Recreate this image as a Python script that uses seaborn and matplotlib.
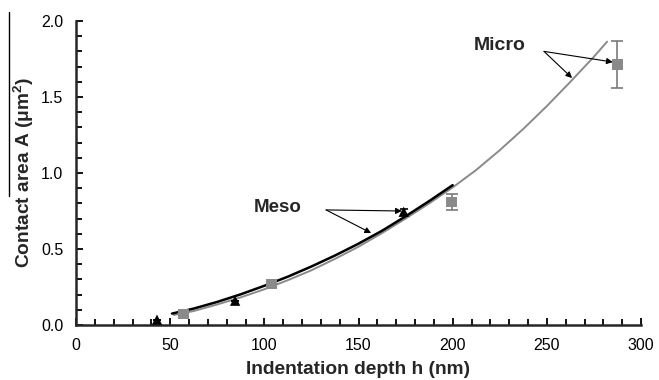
import matplotlib
matplotlib.use("Agg")
import matplotlib.pyplot as plt
from matplotlib.lines import Line2D
from matplotlib.ticker import MultipleLocator, FormatStrFormatter
import seaborn as sns
import pandas as pd

# Fitted curves
meso_h = [51, 62.5, 75, 87.5, 100, 112.5, 125, 137.5, 150, 162.5, 175, 187.5, 200]
meso_A = [0.075, 0.108, 0.152, 0.202, 0.258, 0.318, 0.385, 0.457, 0.535, 0.62,
          0.715, 0.815, 0.92]
micro_h = [52, 62.5, 75, 87.5, 100, 112.5, 125, 137.5, 150, 162.5, 175, 187.5,
           200, 212.5, 225, 237.5, 250, 262.5, 275, 282]
micro_A = [0.066, 0.092, 0.135, 0.182, 0.235, 0.295, 0.36, 0.435, 0.515, 0.605,
           0.70, 0.80, 0.905, 1.02, 1.15, 1.29, 1.44, 1.60, 1.765, 1.864]

# Measured points
meso_pts_h = [43, 84.5, 174]
meso_pts_A = [0.035, 0.16, 0.745]
meso_err = [0, 0, 0.02]
micro_pts_h = [57, 104, 199.5, 287.5]
micro_pts_A = [0.072, 0.27, 0.81, 1.715]
micro_err = [0, 0, 0.055, 0.155]

sns.set_style("ticks")
plt.rcParams["font.family"] = ["Liberation Sans", "DejaVu Sans"]
plt.rcParams["mathtext.default"] = "regular"

fig = plt.figure(figsize=(6.59, 3.8), dpi=100)
ax = fig.add_axes([76 / 659, 1 - 325 / 380, 565 / 659, 304 / 380])

meso_curve = pd.DataFrame({"h": meso_h, "A": meso_A})
micro_curve = pd.DataFrame({"h": micro_h, "A": micro_A})
sns.lineplot(data=micro_curve, x="h", y="A", color="#8a8a8a", lw=1.4, ax=ax)
sns.lineplot(data=meso_curve, x="h", y="A", color="black", lw=1.8, ax=ax)

ax.errorbar(micro_pts_h, micro_pts_A, yerr=micro_err, fmt="none", ecolor="#7a7a7a",
            elinewidth=1.2, capsize=4, capthick=1.2)
ax.errorbar(meso_pts_h, meso_pts_A, yerr=meso_err, fmt="none", ecolor="black",
            elinewidth=1.2, capsize=3, capthick=1.2)
sns.scatterplot(x=micro_pts_h, y=micro_pts_A, marker="s", color="#8a8a8a", s=60,
                edgecolor="none", ax=ax, zorder=4)
sns.scatterplot(x=meso_pts_h, y=meso_pts_A, marker="^", color="black", s=55,
                edgecolor="none", ax=ax, zorder=4)

# labels with arrows
arrow = dict(arrowstyle="-|>", color="black", lw=0.8, mutation_scale=9, shrinkA=0, shrinkB=0)
ax.text(107, 0.776, "Meso", fontsize=13.5, fontweight="bold", ha="center", va="center")
ax.annotate("", xy=(173, 0.75), xytext=(132.8, 0.757), arrowprops=arrow)
ax.annotate("", xy=(156.7, 0.605), xytext=(132.8, 0.757), arrowprops=arrow)
ax.text(225, 1.842, "Micro", fontsize=14, fontweight="bold", ha="center", va="center")
ax.annotate("", xy=(263.4, 1.625), xytext=(248.5, 1.80), arrowprops=arrow)
ax.annotate("", xy=(285.0, 1.73), xytext=(248.5, 1.80), arrowprops=arrow)

ax.set_xlim(0, 300)
ax.set_ylim(0, 2.0)
ax.xaxis.set_major_locator(MultipleLocator(50))
ax.xaxis.set_minor_locator(MultipleLocator(10))
ax.yaxis.set_major_locator(MultipleLocator(0.5))
ax.yaxis.set_minor_locator(MultipleLocator(0.1))
ax.yaxis.set_major_formatter(FormatStrFormatter("%.1f"))
ax.tick_params(which="both", direction="in", width=1.3, labelsize=11.5, colors="black")
ax.tick_params(which="major", length=5)
ax.tick_params(which="minor", length=4)
ax.tick_params(axis="x", which="major", pad=9)
ax.tick_params(axis="y", which="major", pad=9)
sns.despine(ax=ax)
for s in ("left", "bottom"):
    ax.spines[s].set_linewidth(1.8)

ax.set_xlabel("Indentation depth h (nm)", fontsize=13.8, fontweight="bold", labelpad=6)
ax.set_ylabel(r"Contact area A ($\mu$m$^{2}$)", fontsize=13.8, fontweight="bold", labelpad=4)

# thin vertical mark at the far left of the scan
fig.add_artist(Line2D([9 / 659, 9 / 659], [1 - 12 / 380, 1 - 196 / 380], color="black", lw=1))

fig.savefig("out.png", dpi=100)
